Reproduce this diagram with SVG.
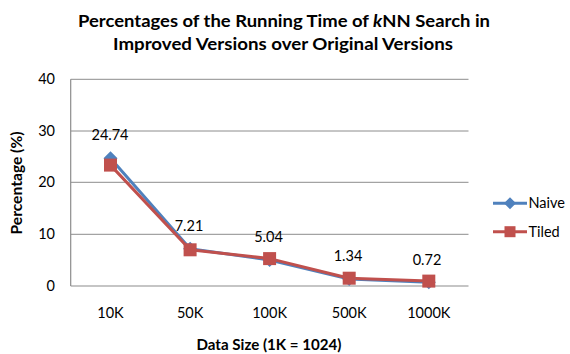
<svg xmlns="http://www.w3.org/2000/svg" width="570" height="354" viewBox="0 0 570 354">
<defs>
<style>
text{font-family:Lato,"Open Sans","Liberation Sans",sans-serif;fill:#000}
.t{font-size:17px;font-weight:bold}
.lab{font-size:14.5px}
.ax{font-size:15px;font-weight:bold}
.grid{stroke:#8c8c8c;stroke-width:1;fill:none}
.axis{stroke:#8c8c8c;stroke-width:1.2;fill:none}
.naive{stroke:#4f81bd;stroke-width:3;fill:none;stroke-linejoin:round}
.tiled{stroke:#c0504d;stroke-width:3;fill:none;stroke-linejoin:round}
</style>
<path id="dia" d="M0,-7 L7,0 L0,7 L-7,0Z" fill="#4f81bd"/>
<path id="dia-s" d="M0,-6 L6,0 L0,6 L-6,0Z" fill="#4f81bd"/>
<rect id="sq" x="-6.5" y="-6.5" width="13" height="13" fill="#c0504d"/>
</defs>
<rect width="570" height="354" fill="#fff"/>
<g id="title">
<text class="t" x="284" y="27" text-anchor="middle" textLength="412" lengthAdjust="spacingAndGlyphs">Percentages of the Running Time of <tspan font-style="italic">k</tspan>NN Search in</text>
<text class="t" x="283" y="50" text-anchor="middle" textLength="340" lengthAdjust="spacingAndGlyphs">Improved Versions over Original Versions</text>
</g>
<g id="grid">
<line class="grid" x1="70.7" y1="79.3" x2="468.5" y2="79.3"/>
<line class="grid" x1="70.7" y1="131" x2="468.5" y2="131"/>
<line class="grid" x1="70.7" y1="182.3" x2="468.5" y2="182.3"/>
<line class="grid" x1="70.7" y1="234.3" x2="468.5" y2="234.3"/>
<line class="axis" x1="70.7" y1="79.3" x2="70.7" y2="286"/>
<line class="axis" x1="70.7" y1="286" x2="468.5" y2="286"/>
</g>
<g id="y-axis" class="lab" text-anchor="end">
<text x="55" y="84.3">40</text>
<text x="55" y="136">30</text>
<text x="55" y="187.3">20</text>
<text x="55" y="239.3">10</text>
<text x="55" y="291">0</text>
</g>
<g id="x-axis" class="lab" text-anchor="middle">
<text x="110.5" y="317.5">10K</text>
<text x="190.1" y="317.5">50K</text>
<text x="269.6" y="317.5">100K</text>
<text x="349.2" y="317.5">500K</text>
<text x="428.8" y="317.5">1000K</text>
</g>
<g id="axis-titles">
<text class="ax" x="269" y="350" text-anchor="middle" textLength="145" lengthAdjust="spacingAndGlyphs">Data Size (1K = 1024)</text>
<text class="ax" transform="translate(21.5,183) rotate(-90)" text-anchor="middle" textLength="103" lengthAdjust="spacingAndGlyphs">Percentage (%)</text>
</g>
<g id="connectors">
<polyline id="naive-line" class="naive" points="110.5,158.2 190.1,248.7 269.6,260 349.2,279.1 428.8,282.3"/>
<polyline id="tiled-line" class="tiled" points="110.5,165.1 190.1,249.8 269.6,258.6 349.2,278.2 428.8,281.1"/>
</g>
<g id="naive-markers">
<use href="#dia" x="110.5" y="158.2"/>
<use href="#dia" x="190.1" y="248.7"/>
<use href="#dia" x="269.6" y="260"/>
<use href="#dia" x="349.2" y="279.1"/>
<use href="#dia" x="428.8" y="282.3"/>
</g>
<g id="tiled-markers">
<use href="#sq" x="110.5" y="165.1"/>
<use href="#sq" x="190.1" y="249.8"/>
<use href="#sq" x="269.6" y="258.6"/>
<use href="#sq" x="349.2" y="278.2"/>
<use href="#sq" x="428.8" y="281.1"/>
</g>
<g id="data-labels" class="lab" text-anchor="middle">
<text x="110" y="140">24.74</text>
<text x="189" y="231">7.21</text>
<text x="268.5" y="242">5.04</text>
<text x="348" y="261">1.34</text>
<text x="427" y="265">0.72</text>
</g>
<g id="legend">
<g id="legend-naive">
<line class="naive" x1="493" y1="203.3" x2="527" y2="203.3"/>
<use href="#dia-s" x="510" y="203.3"/>
<text class="lab" x="528.5" y="208.3">Naive</text>
</g>
<g id="legend-tiled">
<line class="tiled" x1="493" y1="231.7" x2="527" y2="231.7"/>
<rect x="504.5" y="226.2" width="11" height="11" fill="#c0504d"/>
<text class="lab" x="528.5" y="236.7">Tiled</text>
</g>
</g>
</svg>
